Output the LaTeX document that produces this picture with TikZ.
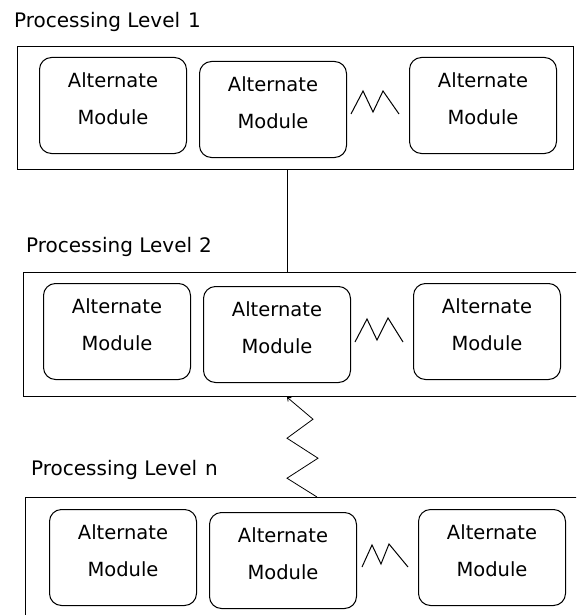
\documentclass[tikz,border=0pt]{standalone}
\usepackage{fontspec}
\setmainfont{DejaVu Sans}
\usetikzlibrary{arrows.meta}

\tikzset{
  stagebox/.style={draw, line width=1.2pt, anchor=north west, inner sep=0pt},
  stagelabel/.style={anchor=west, inner sep=0pt, font=\fontsize{20}{24}\selectfont},
  modbox/.style={draw, line width=1pt, rounded corners=12pt, anchor=north west,
    minimum width=147pt, minimum height=96pt, inner sep=0pt, align=center,
    font=\fontsize{19.5}{37}\selectfont, text depth=13pt},
  dots/.style={line width=1pt}
}

\begin{document}
\begin{tikzpicture}[x=1pt,y=-1pt]
\useasboundingbox (0,0) rectangle (576,615);
\clip (0,0) rectangle (576,615);
\coordinate (linkx) at (287,0);
\coordinate (linkz) at (317,0);
% level 1
\node[stagelabel] (capA) at (14,22) {Processing Level\hspace{8pt}1};
\node[stagebox, minimum width=556pt, minimum height=123pt] (lvlA) at (17,46) {};
\node[modbox] (a1) at (39,57) {Alternate\\Module};
\node[modbox] (a2) at (199,61) {Alternate\\Module};
\node[modbox] (a3) at (409,57) {Alternate\\Module};
\draw[dots] (351,114) -- ++(12,-23) -- ++(10,21) -- ++(10,-21) -- ++(16,23);
% level 2
\node[stagelabel] (capB) at (26,247) {Processing Level\hspace{7pt}2};
\node[stagebox, minimum width=570pt, minimum height=124pt] (lvlB) at (23,272) {};
\node[modbox] (b1) at (43,283) {Alternate\\Module};
\node[modbox] (b2) at (203,286) {Alternate\\Module};
\node[modbox] (b3) at (413,283) {Alternate\\Module};
\draw[dots] (355,342) -- ++(12,-23) -- ++(10,21) -- ++(11,-22) -- ++(15,24);
% level n
\node[stagelabel] (capN) at (31,470) {Processing Level\hspace{8pt}n};
\node[stagebox, minimum width=570pt, minimum height=125pt] (lvlN) at (25,497) {};
\node[modbox] (n1) at (49,509) {Alternate\\Module};
\node[modbox] (n2) at (209,512) {Alternate\\Module};
\node[modbox] (n3) at (418,509) {Alternate\\Module};
\draw[dots] (362,567) -- ++(10,-22) -- ++(9,19) -- ++(8,-20) -- ++(19,23);
% links between levels
\draw[line width=1pt] (lvlA.south -| linkx) -- (lvlB.north -| linkx);
\draw[line width=0.8pt, {Straight Barb[length=3pt,width=5pt]}-]
  (lvlB.south -| linkx) -- ++(26,22) -- ++(-26,19) -- ++(31,20) -- ++(-31,20)
  -- (lvlN.north -| linkz);
\end{tikzpicture}
\end{document}
